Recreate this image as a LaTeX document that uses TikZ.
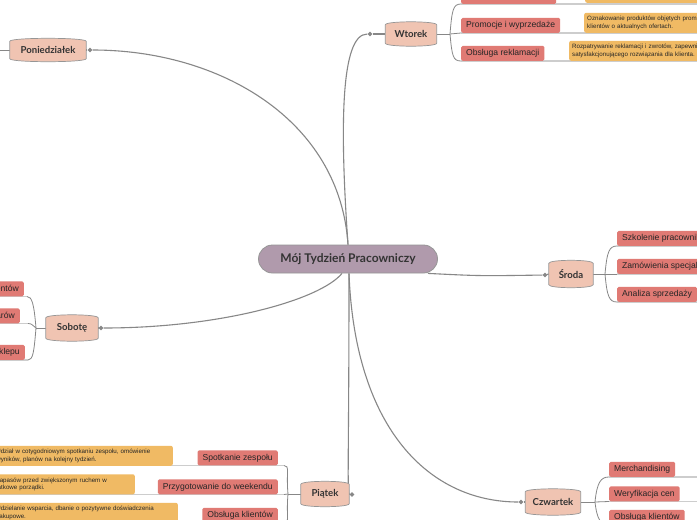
\documentclass[tikz,border=0pt]{standalone}
\usepackage{fontspec}
\setmainfont{Liberation Sans}
\newfontfamily\latofont{Lato}
\usetikzlibrary{shapes.geometric}
\definecolor{cfill}{RGB}{176,154,172}
\definecolor{dfill}{RGB}{240,196,178}
\definecolor{kfill}{RGB}{224,122,116}
\definecolor{nfill}{RGB}{240,186,100}
\definecolor{lgray}{RGB}{135,135,135}
\definecolor{ugray}{RGB}{205,205,205}
\definecolor{bgray}{RGB}{150,150,150}
\definecolor{tdark}{RGB}{51,51,51}
\pgfdeclarelayer{bg}
\pgfsetlayers{bg,main}
\newcommand\drawday[1]{%
 \filldraw[dayshape] ([yshift=-3pt]#1.north west) .. controls ([yshift=1pt]#1.north west) and ([yshift=1pt]#1.north east) .. ([yshift=-3pt]#1.north east) -- ([yshift=3pt]#1.south east) .. controls ([yshift=-1pt]#1.south east) and ([yshift=-1pt]#1.south west) .. ([yshift=3pt]#1.south west) -- cycle;}
\tikzset{
 conn/.style={draw=lgray, line width=1.1pt},
 fork/.style={draw=lgray, line width=0.8pt},
 uline/.style={draw=ugray, line width=1.4pt},
 dot/.style={diamond, fill=lgray, inner sep=0pt, minimum size=5pt},
 daybox/.style={inner sep=0pt, font=\latofont\bfseries\fontsize{9.6}{11}\selectfont, text=tdark},
 dayshape/.style={fill=dfill, draw=bgray, line width=0.7pt},
 hub/.style={fill=cfill, draw=bgray, line width=0.8pt, rounded corners=14pt, inner sep=0pt, font=\latofont\bfseries\fontsize{12}{14}\selectfont, text=tdark},
 task/.style={fill=kfill, rounded corners=1.5pt, inner xsep=5pt, inner ysep=0pt, minimum height=15pt, font=\fontsize{8.6}{10}\selectfont, text=black!85},
 note/.style={fill=nfill, rounded corners=2pt, inner xsep=3pt, inner ysep=2pt, minimum height=20pt, font=\fontsize{6.2}{7.6}\selectfont, align=left, text=black!85},
}
\begin{document}
\begin{tikzpicture}[x=1pt,y=-1pt]
\useasboundingbox (0,0) rectangle (697,520);
% hub
\node[hub, minimum width=179, minimum height=28] (c) at (348,259) {Mój Tydzień Pracowniczy};
% days
\node[daybox, minimum width=51, minimum height=24] (wt) at (411,34) {Wtorek};
\node[daybox, minimum width=76, minimum height=23] (pn) at (48,50) {Poniedziałek};
\node[daybox, minimum width=52, minimum height=26] (sb) at (72,328) {Sobotę};
\node[daybox, minimum width=44, minimum height=27] (sr) at (571,274) {Środa};
\node[daybox, minimum width=55, minimum height=26] (cz) at (553,502) {Czwartek};
\node[daybox, minimum width=48, minimum height=25] (pt) at (325,494) {Piątek};
% dots
\node[dot] (dw) at (370,34) {};
\node[dot] (dp) at (90,50) {};
\node[dot] (db) at (101,328) {};
\node[dot] (ds) at (545,275) {};
\node[dot] (dc) at (521,502) {};
\node[dot] (dpt) at (352,494.5) {};
% fork points
\coordinate (wf) at (450,34);
\coordinate (sf) at (605,274);
\coordinate (cf) at (595,502);
\coordinate (pf) at (288,494);
\coordinate (bf) at (36,328);
% Wtorek tasks and notes
\node[task, anchor=south west, minimum width=95] (w0) at (461,4) {};
\node[task, anchor=south west] (w1) at (461,33) {Promocje i wyprzedaże};
\node[task, anchor=south west] (w2) at (461,61) {Obsługa reklamacji};
\node[note, anchor=south west, text width=185] (wn0) at (585,3) {Prezentowanie nowości i odpowiadanie na pytania\\zainteresowanych dostępnymi produktami.};
\node[note, anchor=south west, text width=185] (wn1) at (584,33) {Oznakowanie produktów objętych promocjami, informowanie\\klientów o aktualnych ofertach.};
\node[note, anchor=south west, text width=185] (wn2) at (569,61) {Rozpatrywanie reklamacji i zwrotów, zapewnienie\\satysfakcjonującego rozwiązania dla klienta.};
% Sroda tasks
\node[task, anchor=south west] (s0) at (617,246) {Szkolenie pracowników};
\node[task, anchor=south west] (s1) at (617,274) {Zamówienia specjalne};
\node[task, anchor=south west] (s2) at (617,302) {Analiza sprzedaży};
% Czwartek tasks
\node[task, anchor=south west] (c0) at (609,477) {Merchandising};
\node[task, anchor=south west] (c1) at (609,501.5) {Weryfikacja cen};
\node[task, anchor=south west] (c2) at (609,525) {Obsługa klientów};
% Piatek tasks and notes
\node[task, anchor=south east] (p0) at (278,465.5) {Spotkanie zespołu};
\node[task, anchor=south east] (p1) at (278,494.5) {Przygotowanie do weekendu};
\node[task, anchor=south east] (p2) at (278,523) {Obsługa klientów};
\node[note, anchor=south east, text width=173.5] (pn0) at (173,466) {Udział w cotygodniowym spotkaniu zespołu, omówienie\\wyników, planów na kolejny tydzień.};
\node[note, anchor=south east, text width=173] (pn1) at (135,494.5) {Uzupełnienie zapasów przed zwiększonym ruchem w\\weekend, dodatkowe porządki.};
\node[note, anchor=south east, text width=178.5] (pn2) at (178,523) {Udzielanie wsparcia, dbanie o pozytywne doświadczenia\\zakupowe.};
% Sobota tasks
\node[task, anchor=south east] (b0) at (24,296.5) {Obsługa klientów};
\node[task, anchor=south east] (b1) at (20,323.5) {Wykładanie towarów};
\node[task, anchor=south east] (b2) at (25,360) {Sprzątanie sklepu};

\begin{pgfonlayer}{bg}
\fill[white] (0,0) rectangle (697,520);
% main connectors
\draw[conn] (c.north) .. controls (340,130) and (340,34) .. (dw);
\draw[conn] (c.north) .. controls (340,120) and (220,50) .. (dp);
\draw[conn] ([xshift=-6pt]c.south) .. controls (320,300) and (220,328) .. (db);
\draw[conn] ([xshift=-10pt]c.south east) .. controls (480,276) .. (ds);
\draw[conn] ([xshift=1pt]c.south) .. controls (355,430) and (430,502) .. (dc);
\draw[conn] ([xshift=1pt]c.south) .. controls (349,450) and (347,494.5) .. (dpt);
\draw[conn] (dw) -- (wt.west);
\draw[conn] (dp) -- (pn.east);
\draw[conn] (db) -- (sb.east);
\draw[conn] (ds) -- (sr.west);
\draw[conn] (dc) -- (cz.west);
\draw[conn] (dpt) -- (pt.east);
% underlines
\draw[uline] (w0.south west) -- ++(240,0);
\draw[uline] (w1.south west) -- ++(240,0);
\draw[uline] (w2.south west) -- ++(240,0);
\draw[uline] (s0.south west) -- ++(100,0);
\draw[uline] (s1.south west) -- ++(100,0);
\draw[uline] (s2.south west) -- ++(100,0);
\draw[uline] (c0.south west) -- ++(100,0);
\draw[uline] (c1.south west) -- ++(100,0);
\draw[uline] (c2.south west) -- ++(100,0);
\draw[uline] ([xshift=6pt]p0.south east) -- ++(-300,0);
\draw[uline] ([xshift=6pt]p1.south east) -- ++(-300,0);
\draw[uline] ([xshift=6pt]p2.south east) -- ++(-300,0);
\draw[uline] ([xshift=3pt]b0.south east) -- ++(-150,0);
\draw[uline] ([xshift=8pt]b1.south east) -- ++(-150,0);
\draw[uline] ([xshift=3pt]b2.south east) -- ++(-150,0);
% forks
\draw[fork] (wt.east) -- (wf);
\draw[fork] (wf) .. controls +(2,-24) and +(-8,0) .. (w0.south west);
\draw[fork] (wf) -- (w1.south west);
\draw[fork] (wf) .. controls +(2,22) and +(-8,0) .. (w2.south west);
\draw[fork] (sr.east) -- (sf);
\draw[fork] (sf) .. controls +(2,-22) and +(-8,0) .. (s0.south west);
\draw[fork] (sf) -- (s1.south west);
\draw[fork] (sf) .. controls +(2,22) and +(-8,0) .. (s2.south west);
\draw[fork] (cz.east) -- (cf);
\draw[fork] (cf) .. controls +(2,-20) and +(-8,0) .. (c0.south west);
\draw[fork] (cf) -- (c1.south west);
\draw[fork] (cf) .. controls +(2,18) and +(-8,0) .. (c2.south west);
\draw[fork] (pt.west) -- (pf);
\draw[fork] (pf) .. controls +(-2,-22) and +(6,0) .. ([xshift=6pt]p0.south east);
\draw[fork] (pf) -- ([xshift=6pt]p1.south east);
\draw[fork] (pf) .. controls +(-2,22) and +(6,0) .. ([xshift=6pt]p2.south east);
\draw[fork] (sb.west) -- (bf);
\draw[fork] (bf) .. controls +(-2,-24) and +(5,0) .. ([xshift=3pt]b0.south east);
\draw[fork] (bf) .. controls +(-4,-3) and +(4,0) .. ([xshift=8pt]b1.south east);
\draw[fork] (bf) .. controls +(-2,24) and +(5,0) .. ([xshift=3pt]b2.south east);
\draw[fork] (pn.west) -- ++(-12,0);
% day shapes
\drawday{wt}
\drawday{pn}
\drawday{sb}
\drawday{sr}
\drawday{cz}
\drawday{pt}
\end{pgfonlayer}
\end{tikzpicture}
\end{document}
